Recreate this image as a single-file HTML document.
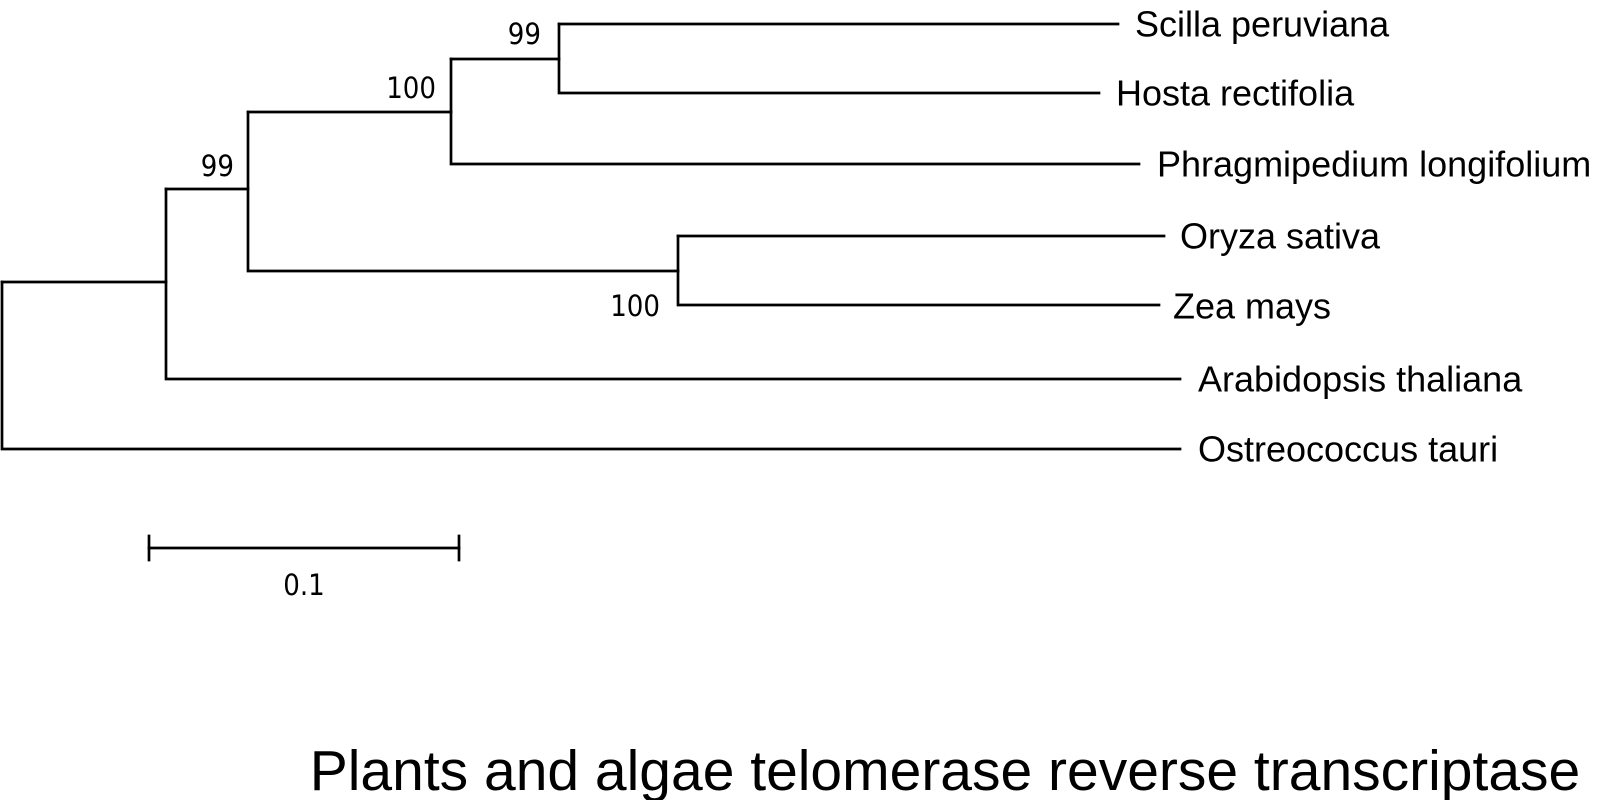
<!DOCTYPE html>
<html><head><meta charset="utf-8"><style>
html,body{margin:0;padding:0;background:#fff;}
svg{display:block;}
.t{font-family:"Liberation Sans",sans-serif;font-size:36px;fill:#000;dominant-baseline:central;}
.b{font-family:"DejaVu Sans Condensed","DejaVu Sans",sans-serif;font-size:29px;fill:#000;dominant-baseline:central;}
</style></head><body>
<svg width="1621" height="800" viewBox="0 0 1621 800">
<g stroke="#000" stroke-width="2.7" fill="none" stroke-linecap="square">
<path d="M2 282 V449 H1180"/>
<path d="M2 282 H166"/>
<path d="M166 189 V379 H1180"/>
<path d="M166 189 H248 V271 H678"/>
<path d="M248 112 V189"/>
<path d="M248 112 H451 V164 H1139"/>
<path d="M451 59 V112"/>
<path d="M451 59 H559 V93 H1099"/>
<path d="M559 24 V59"/>
<path d="M559 24 H1118"/>
<path d="M678 236 V305 H1159"/>
<path d="M678 236 H1164"/>
<path d="M149 548 H459"/>
<path d="M149 536 V560"/>
<path d="M459 536 V560"/>
</g>
<text class="t" x="1135" y="24">Scilla  peruviana</text>
<text class="t" x="1116" y="93">Hosta rectifolia</text>
<text class="t" x="1157" y="164">Phragmipedium longifolium</text>
<text class="t" x="1180" y="236">Oryza sativa</text>
<text class="t" x="1173" y="306">Zea mays</text>
<text class="t" x="1198" y="379">Arabidopsis thaliana</text>
<text class="t" x="1198" y="449">Ostreococcus tauri</text>
<text class="b" x="541" y="34" text-anchor="end">99</text>
<text class="b" x="436" y="88" text-anchor="end">100</text>
<text class="b" x="234" y="166" text-anchor="end">99</text>
<text class="b" x="660" y="306" text-anchor="end">100</text>
<text class="b" x="304" y="585" text-anchor="middle">0.1</text>
<text x="945" y="771" text-anchor="middle" style="font-family:'Liberation Sans',sans-serif;font-size:57px;dominant-baseline:central;">Plants and algae telomerase reverse transcriptase</text>
</svg>
</body></html>
